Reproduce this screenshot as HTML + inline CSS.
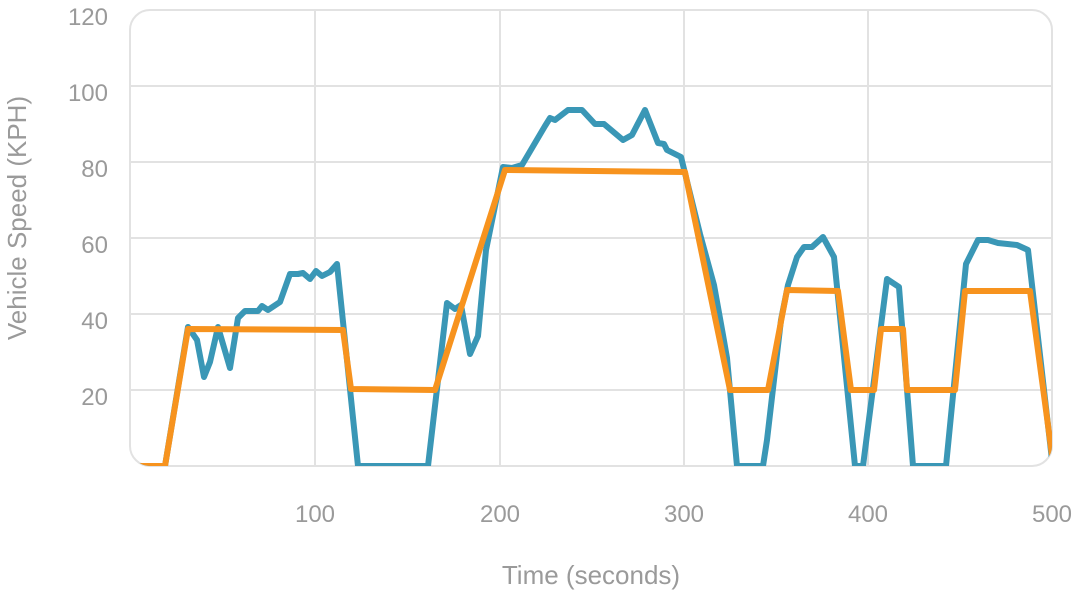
<!DOCTYPE html>
<html><head><style>body{margin:0;background:#fff}</style></head><body>
<svg width="1079" height="601" xmlns="http://www.w3.org/2000/svg" font-family="Liberation Sans, sans-serif" fill="#9a9a9a">
<defs><clipPath id="c"><rect x="130" y="10" width="922" height="456" rx="20"/></clipPath></defs>
<g stroke="#e2e2e2" stroke-width="2" fill="none">
<line x1="315" y1="10" x2="315" y2="466"/><line x1="500" y1="10" x2="500" y2="466"/><line x1="684" y1="10" x2="684" y2="466"/><line x1="868" y1="10" x2="868" y2="466"/>
<line x1="130" y1="86" x2="1052" y2="86"/><line x1="130" y1="162" x2="1052" y2="162"/><line x1="130" y1="238" x2="1052" y2="238"/><line x1="130" y1="314" x2="1052" y2="314"/><line x1="130" y1="390" x2="1052" y2="390"/>
<rect x="130" y="10" width="922" height="456" rx="20"/>
</g>
<g clip-path="url(#c)" fill="none" stroke-width="6" stroke-linejoin="round">
<polyline stroke="#3a97b6" points="130,466 165,466 188,327 197,340 204,377 210,362 218,327 230,368 238,318 245,311 258,311 262,306 268,310 280,302 290,274 298,274 303,273 310,279 316,271 322,276 330,272 337,264 358,466 428,466 447,303 455,309 461,305 470,354 478,336 486,250 503,167 512,168 522,165 545,126 550,118 555,120 568,110 582,110 595,124 604,124 623,140 632,135 645,110 658,143 664,144 667,150 681,157 700,234 714,285 723,335 727,358 737,466 763,466 767,440 781,320 788,285 797,257 804,247 812,247 823,237 834,257 855,466 863,466 887,279 899,287 913,466 946,466 966,264 978,240 988,240 998,243 1017,245 1028,250 1052,460"/>
<polyline stroke="#f7931e" points="130,466 165,466 188,329 343,330 351,389 435,390 505,170 685,172 730,390 768,390 787,290 838,291 851,390 874,390 881,329 903,329 907,390 955,390 965,291 1030,291 1052,455"/>
</g>
<g font-size="24" text-anchor="end">
<text x="108" y="25">120</text><text x="108" y="101">100</text><text x="108" y="177">80</text><text x="108" y="253">60</text><text x="108" y="329">40</text><text x="108" y="405">20</text>
</g>
<g font-size="24" text-anchor="middle">
<text x="315" y="522">100</text><text x="500" y="522">200</text><text x="684" y="522">300</text><text x="868" y="522">400</text><text x="1052" y="522">500</text>
<text x="591" y="584" font-size="26">Time (seconds)</text>
<text transform="translate(26,218) rotate(-90)" font-size="26">Vehicle Speed (KPH)</text>
</g>
</svg>
</body></html>
